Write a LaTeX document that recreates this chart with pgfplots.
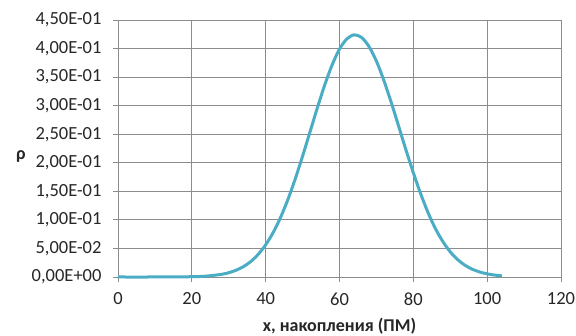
\documentclass[border=0pt]{standalone}
\usepackage{pgfplots}
\pgfplotsset{compat=1.18}
\usepackage{fontspec}
\setmainfont{Carlito}
\definecolor{curve}{HTML}{4BACC6}
\definecolor{gridc}{HTML}{8C8C8C}
\definecolor{txt}{HTML}{262626}
\begin{document}
\begin{tikzpicture}
\path[use as bounding box] (0,0) rectangle (576pt,336pt);
\begin{axis}[
  at={(118pt,59pt)}, anchor=south west,
  scale only axis, width=443pt, height=257pt,
  xmin=0, xmax=120, ymin=0, ymax=0.45,
  xtick={0,20,40,60,80,100,120},
  xticklabels={0,20,40,60,80,100,120},
  ytick={0,0.05,0.1,0.15,0.2,0.25,0.3,0.35,0.4,0.45},
  yticklabels={{0,00E+00},{5,00E-02},{1,00E-01},{1,50E-01},{2,00E-01},{2,50E-01},{3,00E-01},{3,50E-01},{4,00E-01},{4,50E-01}},
  grid=major,
  major grid style={draw=gridc, line width=0.8pt},
  axis line style={draw=gridc, line width=0.8pt},
  tick style={draw=gridc, line width=0.8pt},
  tick align=outside, major tick length=5pt,
  tick pos=left,
  ticklabel style={font=\fontsize{18.5}{22}\selectfont, text=txt},
  yticklabel style={xshift=-8pt},
  xticklabel style={yshift=-7pt},
  clip=false,
]
\addplot[curve, line width=3pt, smooth] table {
x y
0 0.0000003
10 0.000017
20 0.0005
24 0.0016
28 0.0046
30 0.0075
32 0.0119
34 0.0183
36 0.0273
38 0.0398
40 0.0563
42 0.0775
44 0.1038
46 0.1353
48 0.1716
50 0.2116
52 0.2538
54 0.2962
56 0.3362
58 0.3713
60 0.3990
62 0.4170
64 0.4240
66 0.4193
68 0.4034
70 0.3780
72 0.3445
74 0.3060
76 0.2645
78 0.2225
80 0.1825
82 0.1455
84 0.1125
86 0.0845
88 0.0620
90 0.0440
92 0.0305
94 0.0205
96 0.0135
98 0.0087
100 0.0055
102 0.0034
104 0.0020
};
\end{axis}
\node[font=\fontsize{18}{22}\selectfont\bfseries, text=txt] at (21pt,180pt) {ρ};
\node[font=\fontsize{18}{22}\selectfont\bfseries, text=txt] at (339.5pt,10pt) {x, накопления (ПМ)};
\end{tikzpicture}
\end{document}
